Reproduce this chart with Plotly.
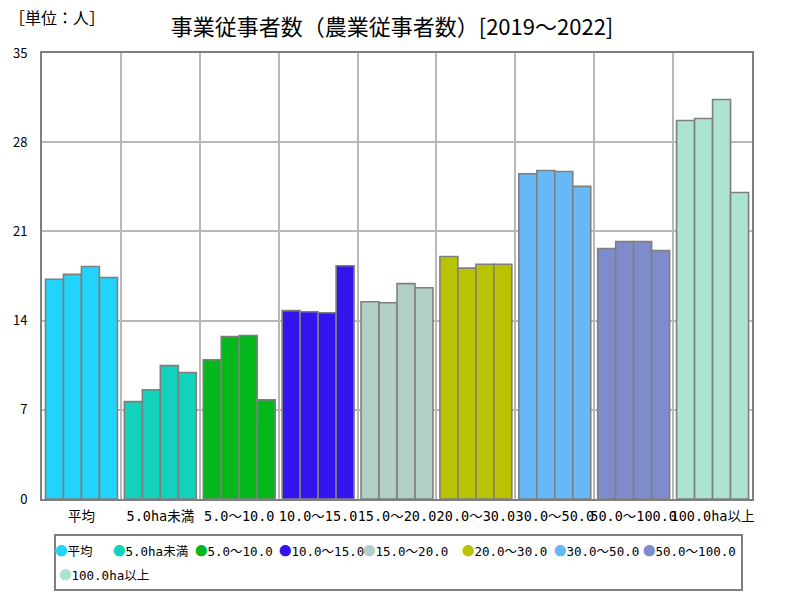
import plotly.graph_objects as go

categories = ["平均", "5.0ha未満", "5.0～10.0", "10.0～15.0", "15.0～20.0",
              "20.0～30.0", "30.0～50.0", "50.0～100.0", "100.0ha以上"]
years = ["2019", "2020", "2021", "2022"]
v2019 = [17.24, 7.64, 10.93, 14.78, 15.48, 19.03, 25.52, 19.66, 29.70]
v2020 = [17.63, 8.57, 12.75, 14.69, 15.40, 18.12, 25.78, 20.20, 29.86]
v2021 = [18.24, 10.47, 12.83, 14.62, 16.90, 18.42, 25.70, 20.20, 31.35]
v2022 = [17.38, 9.93, 7.78, 18.30, 16.58, 18.42, 24.53, 19.50, 24.05]
colors = ["#22d4fb", "#12d2bc", "#04b81c", "#3414ee", "#b2d0c8",
          "#b9c304", "#66b8f6", "#7f8ccc", "#ade4cf"]

# legend layout (pixel positions of each legend entry: x, y)
legend_pos = [(58, 550), (116, 550), (198, 550), (282, 550), (366, 550),
              (465, 550), (557, 550), (646, 550), (62, 574)]

W, H = 800, 600
L, R, T, B = 42, 48, 53, 101
pw, ph = W - L - R, H - T - B


def px(x):
    return (x - L) / pw


def py(y):
    return (H - B - y) / ph


series = [v2019, v2020, v2021, v2022]
bar_w = 0.228
offsets = [-2 * bar_w, -bar_w, 0, bar_w]

font = "Noto Sans CJK JP"
mono = "DejaVu Sans Mono, Noto Sans CJK JP"
fig = go.Figure()
for i, cat in enumerate(categories):
    fig.add_trace(go.Bar(
        x=[cat] * len(years),
        y=[s[i] for s in series],
        width=[bar_w] * len(years),
        offset=offsets,
        marker=dict(color=colors[i], line=dict(color="#7f7f7f", width=1.6)),
        name=cat,
        showlegend=False,
        customdata=years,
        hovertemplate="%{x} %{customdata}: %{y}<extra></extra>",
    ))

annotations = [dict(text="［単位：人］", xref="paper", yref="paper", x=px(7), y=py(17),
                    xanchor="left", yanchor="middle", showarrow=False,
                    font=dict(size=16, family=font))]
for i, cat in enumerate(categories):
    lx, ly = legend_pos[i]
    annotations.append(dict(
        text=f"<span style='color:{colors[i]};font-family:Noto Sans CJK JP'>●</span>{cat}",
        xref="paper", yref="paper", x=px(lx - 5), y=py(ly), xanchor="left", yanchor="middle",
        showarrow=False, font=dict(size=12.5, family=mono, color="#000000")))

fig.update_layout(
    width=W, height=H,
    margin=dict(l=L, r=R, t=T, b=B),
    paper_bgcolor="white", plot_bgcolor="white",
    barmode="overlay",
    showlegend=False,
    font=dict(family=font, color="#000000", size=12),
    title=dict(text="事業従事者数（農業従事者数）[2019～2022]", x=0.49, xanchor="center",
               y=1 - 27 / H, yanchor="middle", font=dict(size=22, family=font)),
    annotations=annotations,
    shapes=[dict(type="rect", xref="paper", yref="paper", x0=px(55), x1=px(742),
                 y0=py(590), y1=py(535), line=dict(color="#7f7f7f", width=2),
                 fillcolor="rgba(0,0,0,0)")],
)
fig.update_xaxes(
    type="category", tickson="boundaries", showgrid=True, gridcolor="#b8b8b8", gridwidth=2,
    showline=True, linecolor="#7f7f7f", linewidth=2, mirror=True, tickangle=0,
    ticklabelstandoff=4,
    ticks="", tickfont=dict(size=13.5, family=mono), range=[-0.5, 8.5],
)
fig.update_yaxes(
    range=[0, 35], dtick=7, showgrid=True, gridcolor="#b8b8b8", gridwidth=2,
    showline=True, linecolor="#7f7f7f", linewidth=2, mirror=True, ticklabelstandoff=10,
    ticks="", tickfont=dict(size=13, family=font), zeroline=False,
)
fig.write_html("out.html")
